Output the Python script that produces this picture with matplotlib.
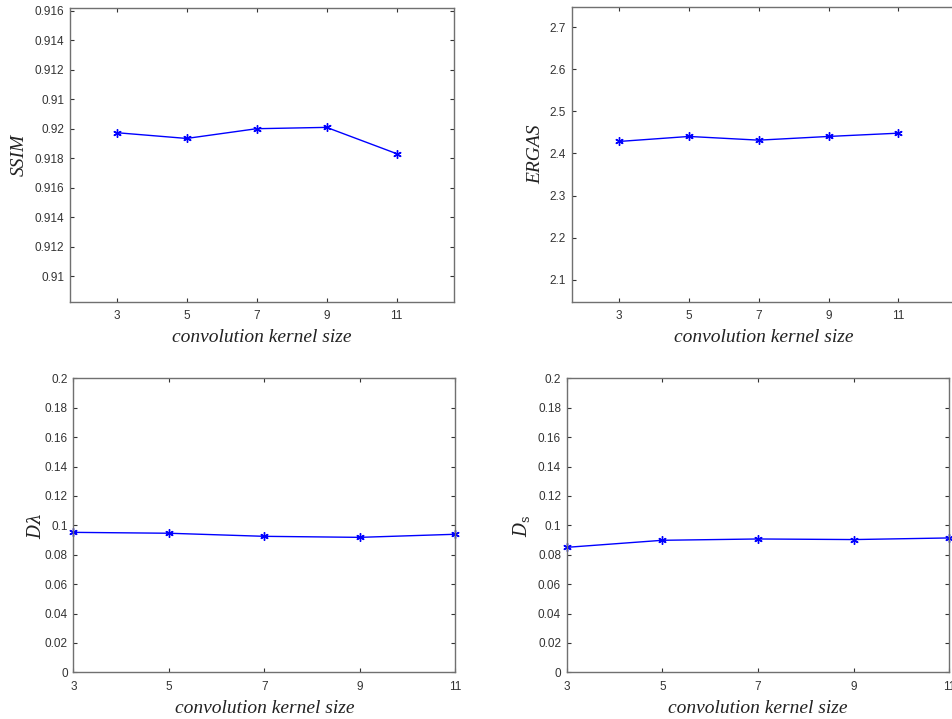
import matplotlib
matplotlib.use("Agg")
import matplotlib.pyplot as plt

plt.rcParams["mathtext.fontset"] = "dejavuserif"

kernel_sizes = [3, 5, 7, 9, 11]
ssim = [0.91973, 0.91934, 0.92000, 0.92009, 0.91831]
ergas = [2.4286, 2.4405, 2.4317, 2.4405, 2.4483]
d_lambda = [0.0952, 0.0946, 0.0925, 0.0918, 0.0939]
d_s = [0.0850, 0.0898, 0.0907, 0.0903, 0.0914]

ssim_ticks = [0.910, 0.912, 0.914, 0.916, 0.918, 0.920, 0.922, 0.924, 0.926, 0.928]
ssim_ticklabels = ["0.91", "0.912", "0.914", "0.916", "0.918", "0.92", "0.91", "0.912", "0.914", "0.916"]
ergas_ticks = [2.1, 2.2, 2.3, 2.4, 2.5, 2.6, 2.7]
d_ticks = [0, 0.02, 0.04, 0.06, 0.08, 0.1, 0.12, 0.14, 0.16, 0.18, 0.2]
d_ticklabels = ["0", "0.02", "0.04", "0.06", "0.08", "0.1", "0.12", "0.14", "0.16", "0.18", "0.2"]
xlabel_text = "convolution kernel size"

fig = plt.figure(figsize=(9.53, 7.19), dpi=100)

spine_c = "#707070"
tick_c = "#333333"
label_font = dict(family="Liberation Serif", style="italic", size=14, color="#222222")

def style(ax):
    for s in ax.spines.values():
        s.set_color(spine_c)
        s.set_linewidth(1.0)
    ax.tick_params(direction="in", length=3, width=0.8, color="#333333",
                   top=True, right=True, labelsize=8.5, labelcolor=tick_c)
    ax.tick_params(axis="y", pad=4)
    ax.tick_params(axis="x", pad=6)
    for lab in ax.get_xticklabels() + ax.get_yticklabels():
        lab.set_family("Liberation Sans")

def plot(ax, y):
    ax.plot(kernel_sizes, y, color="blue", linewidth=1.0, marker=(6, 2, 0),
            markersize=6, markeredgewidth=1.0, clip_on=False)

ax1 = fig.add_axes([0.0735, 0.5800, 0.4029, 0.4085])
plot(ax1, ssim)
ax1.set_xlim(1.67, 12.64)
ax1.set_ylim(0.90826, 0.92816)
ax1.set_xticks(kernel_sizes)
ax1.set_yticks(ssim_ticks)
ax1.set_yticklabels(ssim_ticklabels)
ax1.set_ylabel("SSIM", labelpad=5, **label_font)
ax1.set_xlabel(xlabel_text, labelpad=5, **label_font)
style(ax1)

ax2 = fig.add_axes([0.5999, 0.5804, 0.4029, 0.4095])
plot(ax2, ergas)
ax2.set_xlim(1.64, 12.64)
ax2.set_ylim(2.0477, 2.7476)
ax2.set_xticks(kernel_sizes)
ax2.set_yticks(ergas_ticks)
ax2.set_yticklabels([f"{t:.1f}" for t in ergas_ticks])
ax2.set_ylabel("ERGAS", labelpad=4, **label_font)
ax2.set_xlabel(xlabel_text, labelpad=5, **label_font)
style(ax2)

ax3 = fig.add_axes([0.0769, 0.06495, 0.4008, 0.4089])
plot(ax3, d_lambda)
ax3.set_xlim(3, 11)
ax3.set_ylim(0, 0.2)
ax3.set_xticks(kernel_sizes)
ax3.set_yticks(d_ticks)
ax3.set_yticklabels(d_ticklabels)
ax3.set_ylabel(r"$D\lambda$", fontsize=13, color="#222222", labelpad=0)
ax3.set_xlabel(xlabel_text, labelpad=5, **label_font)
style(ax3)

ax4 = fig.add_axes([0.5946, 0.06495, 0.4015, 0.4089])
plot(ax4, d_s)
ax4.set_xlim(3, 11)
ax4.set_ylim(0, 0.2)
ax4.set_xticks(kernel_sizes)
ax4.set_yticks(d_ticks)
ax4.set_yticklabels(d_ticklabels)
ax4.set_ylabel(r"$D_{\rm s}$", fontsize=13, color="#222222", labelpad=4)
ax4.set_xlabel(xlabel_text, labelpad=5, **label_font)
style(ax4)

fig.savefig("out.png", dpi=100)
